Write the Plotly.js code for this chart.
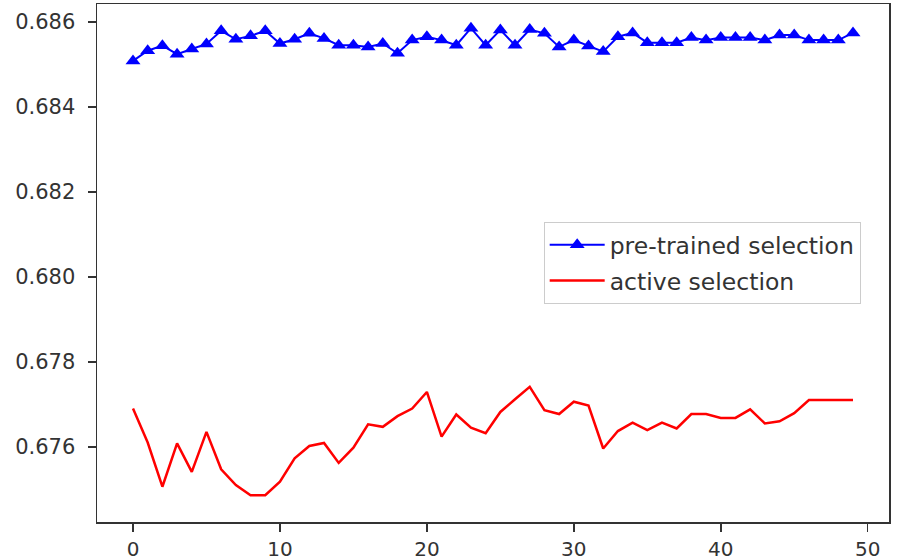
<!DOCTYPE html>
<html>
<head>
<meta charset="utf-8">
<script src="https://cdn.plot.ly/plotly-3.0.1.min.js"></script>
<style>html,body{margin:0;padding:0;background:#fff;}#chart{width:897px;height:560px;}</style>
</head>
<body>
<div id="chart"></div>
<script>
const epochs = Array.from({length: 50}, (_, i) => i);
const pretrainedName = "pre-trained selection";
const activeName = "active selection";
const pretrained = [
  0.68508, 0.68532, 0.68544, 0.68524, 0.68536, 0.68548, 0.68579, 0.68559, 0.68567, 0.68579,
  0.68549, 0.68559, 0.68573, 0.68561, 0.68545, 0.68545, 0.68541, 0.68549, 0.68526, 0.68557,
  0.68565, 0.68557, 0.68545, 0.68585, 0.68545, 0.68581, 0.68545, 0.68582, 0.68573, 0.68541,
  0.68557, 0.68543, 0.68530, 0.68565, 0.68574, 0.68551, 0.68551, 0.68551, 0.68563, 0.68557,
  0.68563, 0.68563, 0.68563, 0.68557, 0.68569, 0.68569, 0.68557, 0.68557, 0.68557, 0.68574
];
const active = [
  0.67690, 0.67610, 0.67506, 0.67608, 0.67541, 0.67635, 0.67547, 0.67510, 0.67486, 0.67486,
  0.67518, 0.67573, 0.67602, 0.67609, 0.67562, 0.67598, 0.67653, 0.67647, 0.67672, 0.67690,
  0.67729, 0.67624, 0.67676, 0.67645, 0.67632, 0.67682, 0.67712, 0.67741, 0.67686, 0.67677,
  0.67706, 0.67697, 0.67596, 0.67637, 0.67657, 0.67639, 0.67657, 0.67643, 0.67677, 0.67677,
  0.67668, 0.67668, 0.67688, 0.67655, 0.67660, 0.67679, 0.67710, 0.67710, 0.67710, 0.67710
];
const xTicks = [0, 10, 20, 30, 40, 50];
const yTicks = [0.676, 0.678, 0.680, 0.682, 0.684, 0.686];

const font = {family: "DejaVu Sans, sans-serif", size: 21, color: "#333"};
const axisCommon = {
  showline: true, linecolor: "#333", linewidth: 1.5, mirror: true,
  ticks: "outside", ticklen: 8, tickwidth: 1.5, tickcolor: "#333",
  showgrid: false, zeroline: false, tickfont: font
};

Plotly.newPlot("chart", [
  {x: epochs, y: pretrained, name: pretrainedName, mode: "lines+markers", legendgroup: "a",
   line: {color: "#0000ff", width: 2},
   marker: {symbol: "triangle-up", size: 13, color: "#0000ff"}},
  {x: epochs, y: active, name: activeName, mode: "lines", legendgroup: "b",
   line: {color: "#ff0000", width: 2.5}}
], {
  width: 897, height: 560,
  margin: {l: 97, r: 8, t: 4, b: 38},
  paper_bgcolor: "#fff", plot_bgcolor: "#fff",
  font: font,
  showlegend: true,
  legend: {x: 0.564, y: 0.579, xanchor: "left", yanchor: "top",
           bordercolor: "#ccc", borderwidth: 1, bgcolor: "#fff",
           font: {family: font.family, size: 23.5, color: "#333"},
           traceorder: "grouped", tracegroupgap: 2, itemwidth: 55},
  xaxis: Object.assign({}, axisCommon, {range: [-2.45, 51.45], tickvals: xTicks, ticktext: xTicks.map(String),
           tickfont: {family: font.family, size: 20, color: "#333"}}),
  yaxis: Object.assign({}, axisCommon, {range: [0.67423, 0.68642], tickvals: yTicks, ticktext: yTicks.map(v => v.toFixed(3)),
           ticklabelstandoff: 8})
}, {displayModeBar: false, staticPlot: true});
</script>
</body>
</html>
